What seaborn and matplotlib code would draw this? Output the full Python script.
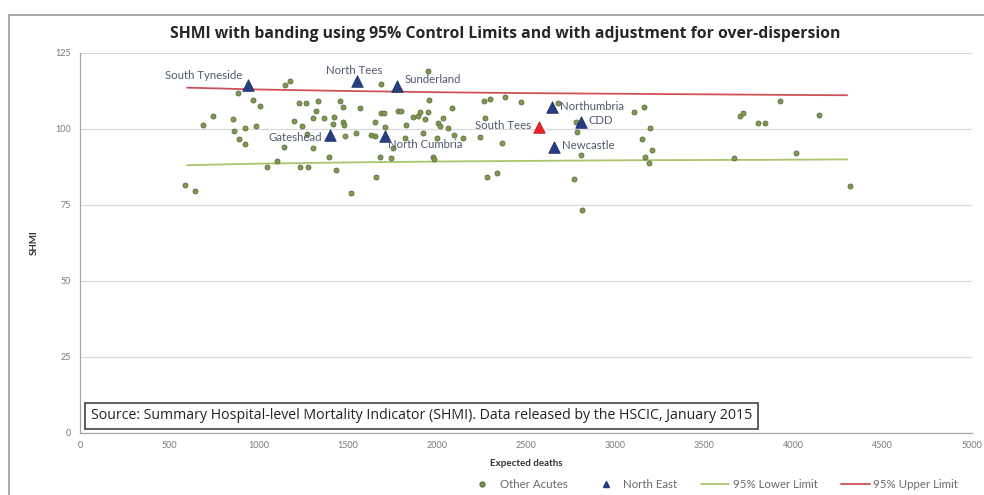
import matplotlib
matplotlib.use("Agg")
import matplotlib.pyplot as plt
from matplotlib.lines import Line2D
import seaborn as sns
import pandas as pd

sns.set_theme(style="white")
plt.rcParams["font.family"] = ["Lato", "DejaVu Sans"]

# Other acute trusts: expected deaths vs SHMI
other_x = [886, 1150, 1179, 967, 1008, 1229, 1267, 745, 691, 860, 923, 989, 863, 891,
           925, 1197, 1242, 1273, 1145, 1104, 1047, 1235, 1276, 591, 642,
           1950, 1687, 1957, 1333, 1455, 1473, 1567, 1323, 1370, 1304, 1426, 1417, 1477, 1482,
           1689, 1704, 1783, 1802, 1652, 1830, 1868, 1896, 1905, 1952, 1933, 2008, 2018, 2036,
           2087, 2064, 2098, 1483, 1548, 1633, 1652, 1712, 1820, 1924, 1999, 1304, 1755, 1398,
           1680, 1742, 1976, 1986, 1436, 1661, 1517,
           2262, 2299, 2384, 2474, 2680, 2271, 2149, 2243, 2365, 2778, 2787, 2806, 2280, 2337,
           2768, 2815,
           3162, 3106, 3196, 3149, 3209, 3168, 3190, 3697, 3716, 3801, 3838, 3922, 3666, 4013,
           4144, 4317]
other_y = [112.0, 114.5, 115.9, 109.5, 107.6, 108.4, 108.4, 104.4, 101.3, 103.2, 100.2, 101.1,
           99.3, 96.6, 95.1, 102.6, 101.0, 98.4, 94.0, 89.5, 87.5, 87.5, 87.5, 81.6, 79.7,
           119.2, 114.8, 109.7, 109.2, 109.3, 107.3, 107.0, 105.9, 103.5, 103.5, 103.8, 101.8,
           102.4, 101.3, 105.2, 105.4, 106.0, 106.0, 102.4, 101.3, 104.0, 104.3, 105.7, 105.7,
           103.2, 101.9, 101.1, 103.7, 107.0, 100.2, 98.0, 97.7, 98.6, 98.0, 97.7, 100.8, 96.9,
           98.8, 97.1, 93.6, 93.6, 90.9, 90.7, 90.4, 90.9, 90.1, 86.5, 84.1, 78.8,
           109.3, 109.8, 110.4, 109.0, 108.6, 103.5, 96.9, 97.5, 95.3, 102.4, 99.1, 91.4, 84.1,
           85.4, 83.5, 73.4,
           107.3, 105.7, 100.4, 96.7, 93.1, 90.7, 88.9, 104.3, 105.2, 101.9, 101.9, 109.2, 90.4,
           92.0, 104.6, 81.3]

# North East trusts
ne_names = ["South Tyneside", "North Tees", "Sunderland", "Gateshead", "North Cumbria",
            "Northumbria", "CDD", "Newcastle"]
ne_x = [944, 1554, 1779, 1404, 1712, 2646, 2806, 2656]
ne_y = [114.5, 115.9, 114.1, 98.0, 97.7, 107.3, 102.4, 94.2]

# Highlighted trust
hl_name = "South Tees"
hl_x = [2575]
hl_y = [100.8]

# 95% control limits (adjusted for over-dispersion)
limit_x = [600, 1000, 1500, 2000, 2500, 3000, 3500, 4000, 4300]
upper_limit = [113.6, 113.0, 112.5, 112.1, 111.8, 111.6, 111.4, 111.2, 111.1]
lower_limit = [88.1, 88.6, 89.0, 89.3, 89.5, 89.7, 89.8, 89.9, 90.0]

x_ticks = [0, 500, 1000, 1500, 2000, 2500, 3000, 3500, 4000, 4500, 5000]
y_ticks = [0, 25, 50, 75, 100, 125]

fig = plt.figure(figsize=(9.84, 4.95), dpi=100)
ax = fig.add_axes([80 / 984, 1 - 433 / 495, 892 / 984, 380 / 495])

# outer chart frame
fig.add_artist(Line2D([9 / 984, 9 / 984], [0, 1 - 15 / 495], transform=fig.transFigure,
                      color="#9a9a9a", lw=1.2))
fig.add_artist(Line2D([9 / 984, 1], [1 - 15 / 495, 1 - 15 / 495], transform=fig.transFigure,
                      color="#9a9a9a", lw=1.2))

limits = pd.DataFrame({"x": limit_x, "lower": lower_limit, "upper": upper_limit})
sns.lineplot(data=limits, x="x", y="lower", ax=ax, color="#a9c46a", lw=1.3, zorder=2)
sns.lineplot(data=limits, x="x", y="upper", ax=ax, color="#d0505a", lw=1.3, zorder=2)

others = pd.DataFrame({"x": other_x, "y": other_y})
sns.scatterplot(data=others, x="x", y="y", ax=ax, marker="o", s=13, color="#7f9a4a",
                edgecolor="#5f6f45", linewidth=0.6, zorder=3)

ne = pd.DataFrame({"x": ne_x, "y": ne_y, "name": ne_names})
sns.scatterplot(data=ne, x="x", y="y", ax=ax, marker="^", s=70, color="#243f7f",
                edgecolor="#1a2c5e", linewidth=0.5, zorder=4)
sns.scatterplot(x=hl_x, y=hl_y, ax=ax, marker="^", s=70, color="#e8242a",
                edgecolor="#c01a1f", linewidth=0.5, zorder=4)

label_style = dict(fontsize=8.2, color="#505a6e", zorder=5)
offsets = {
    "South Tyneside": (-4, 3, "right", "bottom"),
    "North Tees": (-2, 3, "center", "bottom"),
    "Sunderland": (5, 1, "left", "bottom"),
    "Gateshead": (-6, -2, "right", "center"),
    "North Cumbria": (2, -6, "left", "center"),
    "Northumbria": (6, 0, "left", "center"),
    "CDD": (6, 1, "left", "center"),
    "Newcastle": (6, 1, "left", "center"),
}
for n, x, y in zip(ne_names, ne_x, ne_y):
    dx, dy, ha, va = offsets[n]
    ax.annotate(n, (x, y), xytext=(dx, dy), textcoords="offset points", ha=ha, va=va,
                **label_style)
ax.annotate(hl_name, (hl_x[0], hl_y[0]), xytext=(-6, 1), textcoords="offset points",
            ha="right", va="center", **label_style)

ax.set_xlim(0, 5000)
ax.set_ylim(0, 125)
ax.set_xticks(x_ticks)
ax.set_yticks(y_ticks)
ax.set_xticklabels([str(t) for t in x_ticks])
ax.set_yticklabels([str(t) for t in y_ticks])
ax.tick_params(axis="both", labelsize=6.5, colors="#7a7a7a", length=3, width=0.8,
               direction="out")
ax.tick_params(axis="x", length=0, pad=6)
ax.yaxis.grid(True, color="#d9d9d9", lw=0.9)
ax.xaxis.grid(False)
for side in ("top", "right"):
    ax.spines[side].set_visible(False)
for side in ("left", "bottom"):
    ax.spines[side].set_color("#a6a6a6")
    ax.spines[side].set_linewidth(0.9)

ax.set_xlabel("Expected deaths", fontsize=7, fontweight="bold", color="#333333", labelpad=6)
ax.set_ylabel("SHMI", fontsize=7, fontweight="bold", color="#333333", labelpad=12)
ax.set_title("SHMI with banding using 95% Control Limits and with adjustment for over-dispersion",
             fontsize=11.3, fontweight="bold", color="#262626", pad=11, x=0.477,
             family=["Open Sans", "DejaVu Sans"])

ax.text(0.0125, 0.045,
        "Source: Summary Hospital-level Mortality Indicator (SHMI). Data released by the HSCIC, January 2015",
        transform=ax.transAxes, fontsize=10.2, color="#222222", ha="left", va="center",
        family=["Open Sans", "DejaVu Sans"],
        bbox=dict(boxstyle="square,pad=0.4", fc="white", ec="#333333", lw=1.1), zorder=6)

handles = [
    Line2D([], [], marker="o", ls="none", color="#7f9a4a", markeredgecolor="#5f6f45",
           markersize=3.5),
    Line2D([], [], marker="^", ls="none", color="#243f7f", markersize=5),
    Line2D([], [], color="#a9c46a", lw=1.3),
    Line2D([], [], color="#d0505a", lw=1.3),
]
fig.legend(handles, ["Other Acutes", "North East", "95% Lower Limit", "95% Upper Limit"],
           loc="center", bbox_to_anchor=(713 / 984, 1 - 485 / 495), ncol=4, frameon=False,
           fontsize=8.3, labelcolor="#6a6a6a", handlelength=2.5, columnspacing=2.0,
           handletextpad=0.3)

fig.savefig("out.png", dpi=100)
